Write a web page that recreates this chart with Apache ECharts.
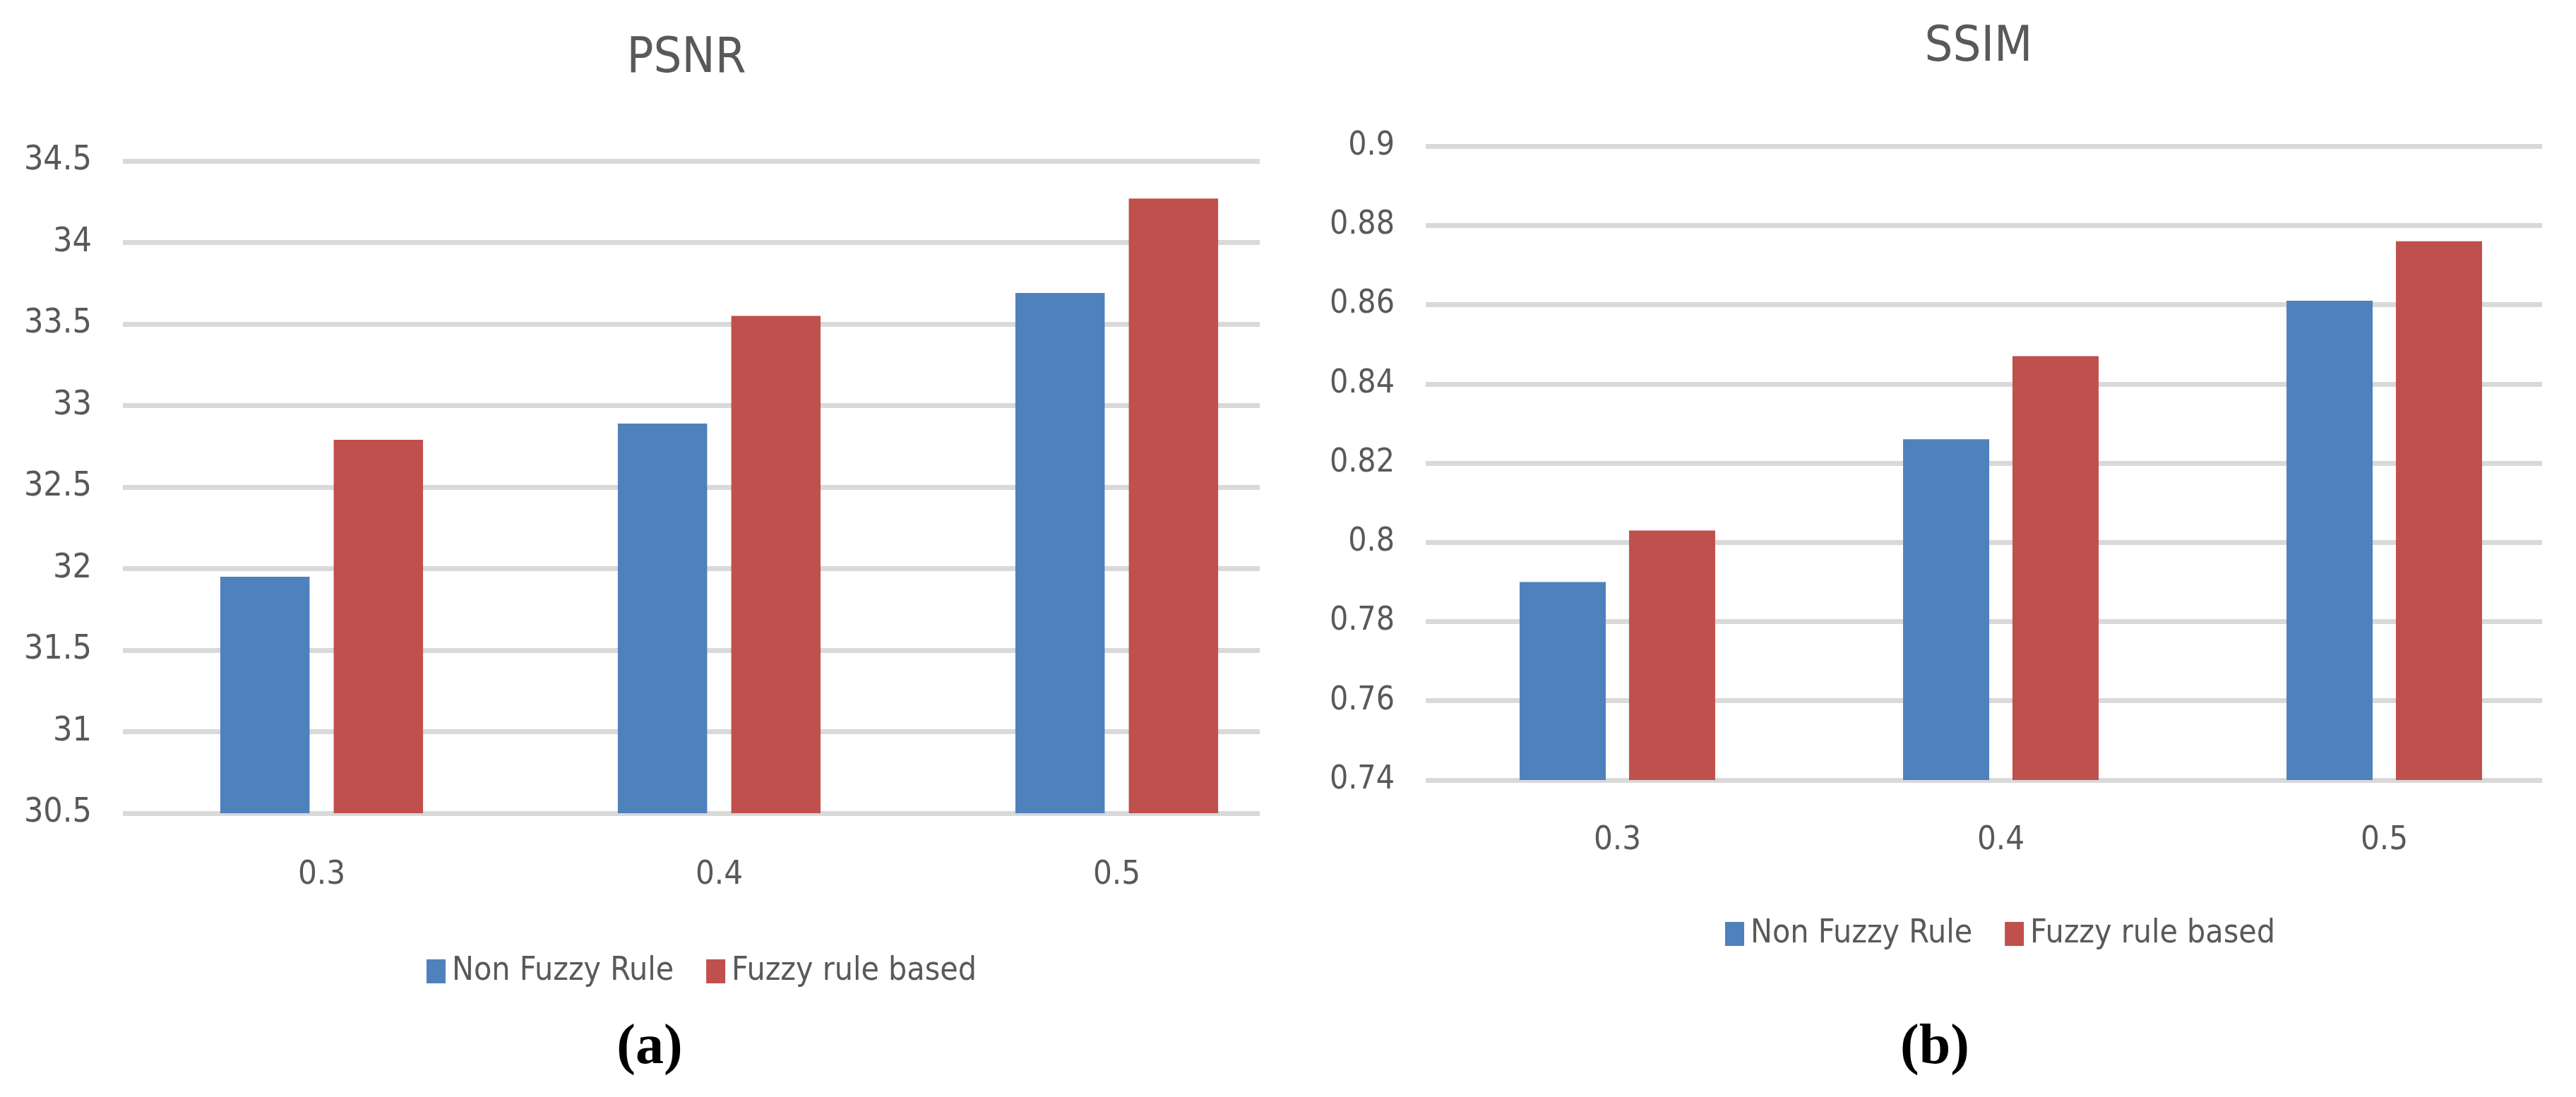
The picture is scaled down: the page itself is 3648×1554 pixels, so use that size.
<!DOCTYPE html>
<html>
<head>
<meta charset="utf-8">
<script src="https://cdn.jsdelivr.net/npm/echarts@6/dist/echarts.min.js"></script>
<style>
html,body{margin:0;padding:0;background:#fff;}
#chart{width:3648px;height:1554px;}
</style>
</head>
<body>
<div id="chart"></div>
<script>
const categories = ['0.3', '0.4', '0.5'];
const seriesNames = ['Non Fuzzy Rule', 'Fuzzy rule based'];
const psnrNonFuzzy = [31.95, 32.89, 33.69];
const psnrFuzzy = [32.79, 33.55, 34.27];
const ssimNonFuzzy = [0.790, 0.826, 0.861];
const ssimFuzzy = [0.803, 0.847, 0.876];
const psnrAxis = { min: 30.5, max: 34.5, interval: 0.5 };
const ssimAxis = { min: 0.74, max: 0.9, interval: 0.02 };
const chartTitles = ['PSNR', 'SSIM'];
const captions = ['a', 'b'];

const BLUE = '#4F81BD', RED = '#C0504D', TXT = '#595959', GRID = '#d9d9d9';
const FONT = "'Liberation Sans Narrow', 'DejaVu Sans Condensed', 'Liberation Sans', sans-serif";

const chart = echarts.init(document.getElementById('chart'), null, { renderer: 'canvas' });

function valueAxis(gi, ax, visible, fs) {
  if (!visible) return { type: 'value', gridIndex: gi, min: ax.min, max: ax.max, interval: ax.interval, show: false };
  return {
    type: 'value', gridIndex: gi, min: ax.min, max: ax.max, interval: ax.interval,
    axisLine: { show: false }, axisTick: { show: false },
    axisLabel: { margin: 44, fontSize: fs, color: TXT, fontFamily: FONT },
    splitLine: { show: true, lineStyle: { color: GRID, width: 7 } }
  };
}
function catAxis(gi, visible, margin) {
  if (!visible) return { type: 'category', gridIndex: gi, data: categories, show: false };
  return {
    type: 'category', gridIndex: gi, data: categories,
    axisLine: { show: false }, axisTick: { show: false },
    axisLabel: { margin: margin, fontSize: 47, color: TXT, fontFamily: FONT }
  };
}
function bar(name, data, color, xi) {
  return {
    type: 'bar', name: name, data: data, xAxisIndex: xi, yAxisIndex: xi,
    itemStyle: { color: color }, barGap: '27%', barCategoryGap: '49%', z: 3
  };
}
function legend(left, top) {
  return {
    data: seriesNames, left: left, top: top, icon: 'rect', itemWidth: 27, itemHeight: 34, itemGap: 46,
    textStyle: { fontSize: 46, color: TXT, fontFamily: FONT, padding: [0, 0, 0, 4] }
  };
}
function caption(letter, x) {
  return {
    text: '{p|(}{b|' + letter + '}{p|)}', left: x, top: 1440, textAlign: 'center',
    textStyle: { rich: {
      p: { fontFamily: "'Liberation Serif', serif", fontSize: 80, color: '#000' },
      b: { fontFamily: "'Liberation Serif', serif", fontSize: 80, fontWeight: 'bold', color: '#000' }
    } }
  };
}

chart.setOption({
  animation: false,
  backgroundColor: '#fff',
  title: [
    { text: chartTitles[0], left: 967, top: 44, textAlign: 'center', textStyle: { fontSize: 70, fontWeight: 'normal', color: TXT, fontFamily: FONT } },
    { text: chartTitles[1], left: 2797, top: 28, textAlign: 'center', textStyle: { fontSize: 70, fontWeight: 'normal', color: TXT, fontFamily: FONT } },
    caption(captions[0], 915),
    caption(captions[1], 2735)
  ],
  legend: [legend(599, 1348), legend(2438, 1295)],
  grid: [
    { left: 174, top: 228, width: 1689, height: 924 },
    { left: 174, top: 228, width: 1610, height: 924 },
    { left: 2019, top: 207, width: 1665, height: 898 },
    { left: 2019, top: 207, width: 1581, height: 898 }
  ],
  xAxis: [catAxis(0, true, 64), catAxis(1, false), catAxis(2, true, 62), catAxis(3, false)],
  yAxis: [valueAxis(0, psnrAxis, false), valueAxis(1, psnrAxis, true, 48), valueAxis(2, ssimAxis, false), valueAxis(3, ssimAxis, true, 46)],
  series: [
    bar(seriesNames[0], psnrNonFuzzy, BLUE, 0),
    bar(seriesNames[1], psnrFuzzy, RED, 0),
    bar(seriesNames[0], ssimNonFuzzy, BLUE, 2),
    bar(seriesNames[1], ssimFuzzy, RED, 2)
  ]
});
</script>
</body>
</html>
